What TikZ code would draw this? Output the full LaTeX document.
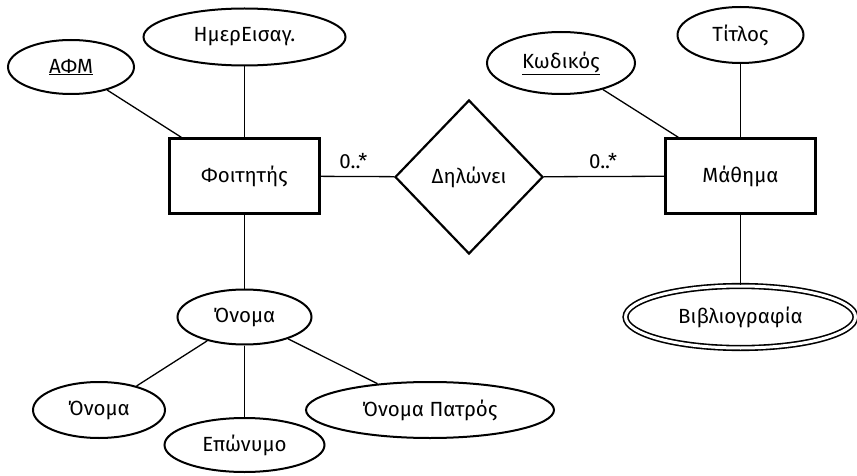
\documentclass[tikz,border=0pt]{standalone}
\usepackage{fontspec}
\setmainfont{Fira Sans}
\usetikzlibrary{shapes.geometric,calc}
\begin{document}
\begin{tikzpicture}[x=1pt,y=-1pt,
  every node/.style={font=\fontsize{20.5}{25}\selectfont, inner sep=0pt},
  attr/.style={ellipse, draw, line width=2pt},
  entity/.style={rectangle, draw, line width=2.4pt, minimum width=150pt, minimum height=75pt},
  rel/.style={diamond, draw, line width=2.2pt, minimum width=148pt, minimum height=154pt},
  multi/.style={ellipse, draw, line width=1.6pt, double, double distance=3pt},
  conn/.style={line width=1.3pt}]
\useasboundingbox (0,0) rectangle (857,476);
\node[entity] (foit) at (244.5,176) {Φοιτητής};
\node[entity] (math) at (740.5,176) {Μάθημα};
\node[rel] (dil) at (469,177) {Δηλώνει};
\node[attr, minimum width=126pt, minimum height=54pt] (afm) at (71,67) {\underline{ΑΦΜ}};
\node[attr, minimum width=202pt, minimum height=57pt] (imer) at (244.5,37) {ΗμερΕισαγ.};
\node[attr, minimum width=148pt, minimum height=62pt] (kod) at (561,63) {\underline{Κωδικός}};
\node[attr, minimum width=126pt, minimum height=56pt] (titl) at (740.5,35) {Τίτλος};
\node[multi, minimum width=230pt, minimum height=62pt] (vivl) at (740.5,317) {Βιβλιογραφία};
\node[attr, minimum width=134pt, minimum height=55pt] (onoma) at (244.5,317) {Όνομα};
\node[attr, minimum width=132pt, minimum height=56pt] (onoma1) at (99,410) {Όνομα};
\node[attr, minimum width=160pt, minimum height=54pt] (epon) at (244.5,445) {Επώνυμο};
\node[attr, minimum width=248pt, minimum height=56pt] (patr) at (430,410) {Όνομα Πατρός};
\coordinate (foitA) at ($(foit.north west)+(13,0)$);
\coordinate (mathA) at ($(math.north west)+(14,0)$);
\draw[conn] (afm) -- (foitA);
\draw[conn] (imer) -- (foit.north);
\draw[conn] (kod) -- (mathA);
\draw[conn] (titl) -- (math.north);
\draw[conn] (math) -- (vivl);
\draw[conn] (foit) -- (onoma);
\draw[conn] (onoma) -- (onoma1);
\draw[conn] (onoma) -- (epon);
\draw[conn] (onoma) -- (patr);
\draw[conn] (foit) -- node[above=7pt, xshift=-4pt] (c1) {0..*} (dil);
\draw[conn] (dil) -- node[above=7pt, xshift=-1pt] (c2) {0..*} (math);
\end{tikzpicture}
\end{document}
